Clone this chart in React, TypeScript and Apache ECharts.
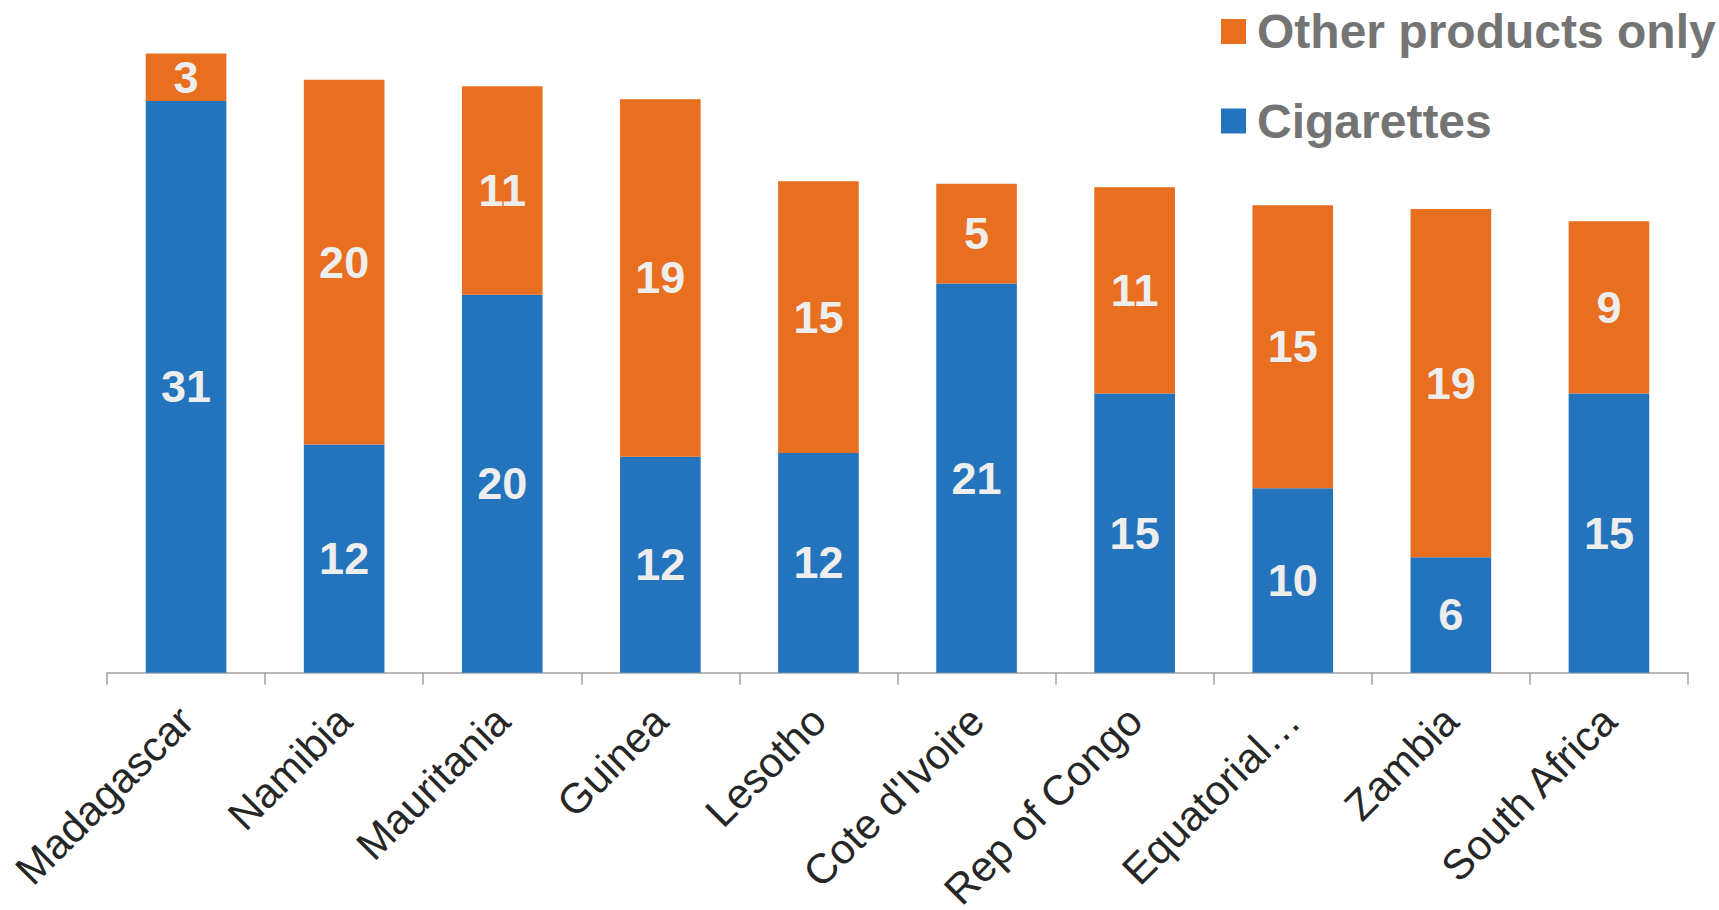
import React, { useEffect, useRef } from "react";
import * as echarts from "echarts";

const countries = [
  "Madagascar",
  "Namibia",
  "Mauritania",
  "Guinea",
  "Lesotho",
  "Cote d'Ivoire",
  "Rep of Congo",
  "Equatorial Guinea",
  "Zambia",
  "South Africa",
];
const cigarettes = [30.7, 12.25, 20.3, 11.6, 11.8, 20.9, 15.0, 9.9, 6.2, 15.0];
const otherOnly = [2.55, 19.6, 11.2, 19.2, 14.6, 5.36, 11.07, 15.2, 18.7, 9.24];

const seriesNames = ["Cigarettes", "Other products only"];
const BLUE = "#2374BC";
const ORANGE = "#E86E20";
const FONT = "'Liberation Sans', Arial, sans-serif";

export default function App() {
  const ref = useRef<HTMLDivElement>(null);
  useEffect(() => {
    if (!ref.current) return;
    const chart = echarts.init(ref.current, undefined, { renderer: "svg" });
    const labelCfg = {
      show: true,
      position: "inside" as const,
      color: "#eeeeee",
      fontSize: 45,
      fontWeight: "bold" as const,
      fontFamily: FONT,
      formatter: (p: any) => String(Math.round(p.value)),
    };
    const legendBase = {
      orient: "vertical" as const,
      left: 1221,
      padding: 0,
      itemWidth: 25,
      itemHeight: 25,
      icon: "rect",
      textStyle: {
        fontSize: 48,
        fontWeight: "bold" as const,
        color: "#747474",
        fontFamily: FONT,
        lineHeight: 50,
        padding: [0, 0, 0, 6],
      },
    };
    chart.setOption({
      animation: false,
      backgroundColor: "#ffffff",
      legend: [
        { ...legendBase, top: 6.5, data: [seriesNames[1]] },
        { ...legendBase, top: 96, data: [seriesNames[0]] },
      ],
      grid: {
        left: 107,
        right: 31,
        top: 21,
        bottom: 237.3,
        containLabel: false,
        outerBoundsMode: "none",
      },
      xAxis: {
        type: "category",
        data: countries,
        axisLine: { show: true, lineStyle: { color: "#a0a0a0", width: 1.5 } },
        axisTick: { show: true, length: 12, interval: 0, lineStyle: { color: "#a0a0a0", width: 1.5 } },
        axisLabel: {
          interval: 0,
          rotate: 45,
          margin: 41,
          fontSize: 42,
          color: "#262626",
          fontFamily: FONT,
          formatter: (v: string) => (v.length > 15 ? v.split(" ")[0] + "…" : v),
        },
      },
      yAxis: {
        type: "value",
        min: 0,
        max: 35,
        show: false,
        splitLine: { show: false },
      },
      series: [
        {
          name: seriesNames[0],
          type: "bar",
          stack: "total",
          barWidth: "51%",
          data: cigarettes,
          itemStyle: { color: BLUE },
          label: labelCfg,
        },
        {
          name: seriesNames[1],
          type: "bar",
          stack: "total",
          barWidth: "51%",
          data: otherOnly,
          itemStyle: { color: ORANGE },
          label: labelCfg,
        },
      ],
    });
    return () => chart.dispose();
  }, []);
  return (
    <div
      ref={ref}
      style={{ position: "fixed", left: 0, top: 0, width: 1719, height: 910, background: "#fff" }}
    />
  );
}
